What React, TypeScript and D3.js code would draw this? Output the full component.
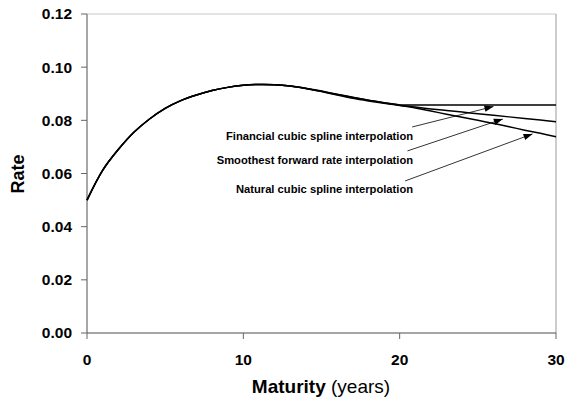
import React from "react";
import * as d3 from "d3";

const maturities = [0,1,2,3,4,5,6,7,8,9,10,11,12,13,14,15,16,17,18,19,20,21,22,23,24,25,26,27,28,29,30];
const financialRates = [0.0500,0.0612,0.0690,0.0755,0.0805,0.0845,0.0874,0.0895,0.0912,0.0924,0.0932,0.0935,0.0934,0.0929,0.0920,0.0909,0.0897,0.0886,0.0876,0.0866,0.0858,0.0858,0.0858,0.0858,0.0858,0.0858,0.0858,0.0858,0.0858,0.0858,0.0858];
const smoothestRates = [0.0500,0.0612,0.0690,0.0755,0.0805,0.0845,0.0874,0.0895,0.0912,0.0924,0.0932,0.0935,0.0934,0.0929,0.0920,0.0908,0.0895,0.0883,0.0873,0.0864,0.0856,0.0850,0.0843,0.0837,0.0831,0.0825,0.0819,0.0813,0.0807,0.0801,0.0795];
const naturalRates = [0.0500,0.0612,0.0690,0.0755,0.0805,0.0845,0.0874,0.0895,0.0912,0.0924,0.0932,0.0935,0.0934,0.0929,0.0921,0.0910,0.0898,0.0887,0.0876,0.0866,0.0857,0.0846,0.0835,0.0823,0.0812,0.0800,0.0788,0.0776,0.0763,0.0751,0.0738];
const yTicks = [0, 0.02, 0.04, 0.06, 0.08, 0.10, 0.12];
const xTicks = [0, 10, 20, 30];
const annotationLabels = ["Financial cubic spline interpolation", "Smoothest forward rate interpolation", "Natural cubic spline interpolation"];
// label end (maturity, rate), arrow start (maturity, rate), arrow tip (maturity, rate)
const labelAnchors = [[20.86, 0.0726], [20.86, 0.0636], [20.86, 0.0527]];
const arrowStarts = [[20.8, 0.0775], [20.5, 0.0685], [20.35, 0.0572]];
const arrowTips = [[26.0, 0.0852], [26.6, 0.0805], [28.5, 0.0749]];

const FONT = "'Liberation Sans', Arial, Helvetica, sans-serif";

export default function App() {
  const left = 87, right = 556, top = 14, bottom = 333;
  const x = d3.scaleLinear().domain([0, 30]).range([left, right]);
  const y = d3.scaleLinear().domain([0, 0.12]).range([bottom, top]);
  const line = d3.line<number>()
    .x((_, i) => x(maturities[i]))
    .y((d) => y(d))
    .curve(d3.curveCatmullRom.alpha(0.5));
  const series = [financialRates, smoothestRates, naturalRates];
  const fmt = d3.format(".2f");

  const arrowHead = (sx: number, sy: number, tx: number, ty: number) => {
    const ang = Math.atan2(ty - sy, tx - sx);
    const len = 9, half = 3.2;
    const bx = tx - len * Math.cos(ang), by = ty - len * Math.sin(ang);
    const px = -Math.sin(ang) * half, py = Math.cos(ang) * half;
    return `M${tx},${ty}L${bx + px},${by + py}L${bx - px},${by - py}Z`;
  };

  return (
    <svg width={565} height={402} style={{ position: "absolute", left: 0, top: 0, background: "#fff" }} fontFamily={FONT}>
      <rect x={0} y={0} width={565} height={402} fill="#fff" />
      <line x1={left} x2={right} y1={top} y2={top} stroke="#c8c8c8" strokeWidth={1} />
      <line x1={right} x2={right} y1={top} y2={bottom} stroke="#9a9a9a" strokeWidth={1} />
      <line x1={left} x2={left} y1={top} y2={bottom} stroke="#8a8a8a" strokeWidth={1.5} />
      <line x1={left} x2={right} y1={bottom} y2={bottom} stroke="#4a4a4a" strokeWidth={1} />
      {yTicks.map((t) => (
        <g key={"y" + t}>
          <line x1={left - 6} x2={left} y1={y(t)} y2={y(t)} stroke="#666" strokeWidth={1} />
          <text x={72} y={y(t)} dy="0.35em" textAnchor="end" fontSize={15.5} fontWeight="bold" fill="#000">{fmt(t)}</text>
        </g>
      ))}
      {xTicks.map((t) => (
        <g key={"x" + t}>
          <line x1={x(t)} x2={x(t)} y1={bottom} y2={bottom + 6} stroke="#666" strokeWidth={1} />
          <text x={x(t)} y={365} textAnchor="middle" fontSize={15.5} fontWeight="bold" fill="#000">{t}</text>
        </g>
      ))}
      <text x={321} y={393} textAnchor="middle" fontSize={19} fill="#000">
        <tspan fontWeight="bold">Maturity</tspan>
        <tspan> (years)</tspan>
      </text>
      <text transform={`translate(24,174) rotate(-90)`} textAnchor="middle" fontSize={18} fontWeight="bold" fill="#000">Rate</text>
      {series.map((s, i) => (
        <path key={i} d={line(s) || ""} fill="none" stroke="#000" strokeWidth={1.5} />
      ))}
      {annotationLabels.map((lab, i) => {
        const sx = x(arrowStarts[i][0]), sy = y(arrowStarts[i][1]);
        const tx = x(arrowTips[i][0]), ty = y(arrowTips[i][1]);
        return (
          <g key={lab}>
            <text x={x(labelAnchors[i][0])} y={y(labelAnchors[i][1])} textAnchor="end" fontSize={11.2} fontWeight="bold" fill="#000">{lab}</text>
            <line x1={sx} y1={sy} x2={tx} y2={ty} stroke="#000" strokeWidth={0.8} />
            <path d={arrowHead(sx, sy, tx, ty)} fill="#000" />
          </g>
        );
      })}
    </svg>
  );
}
